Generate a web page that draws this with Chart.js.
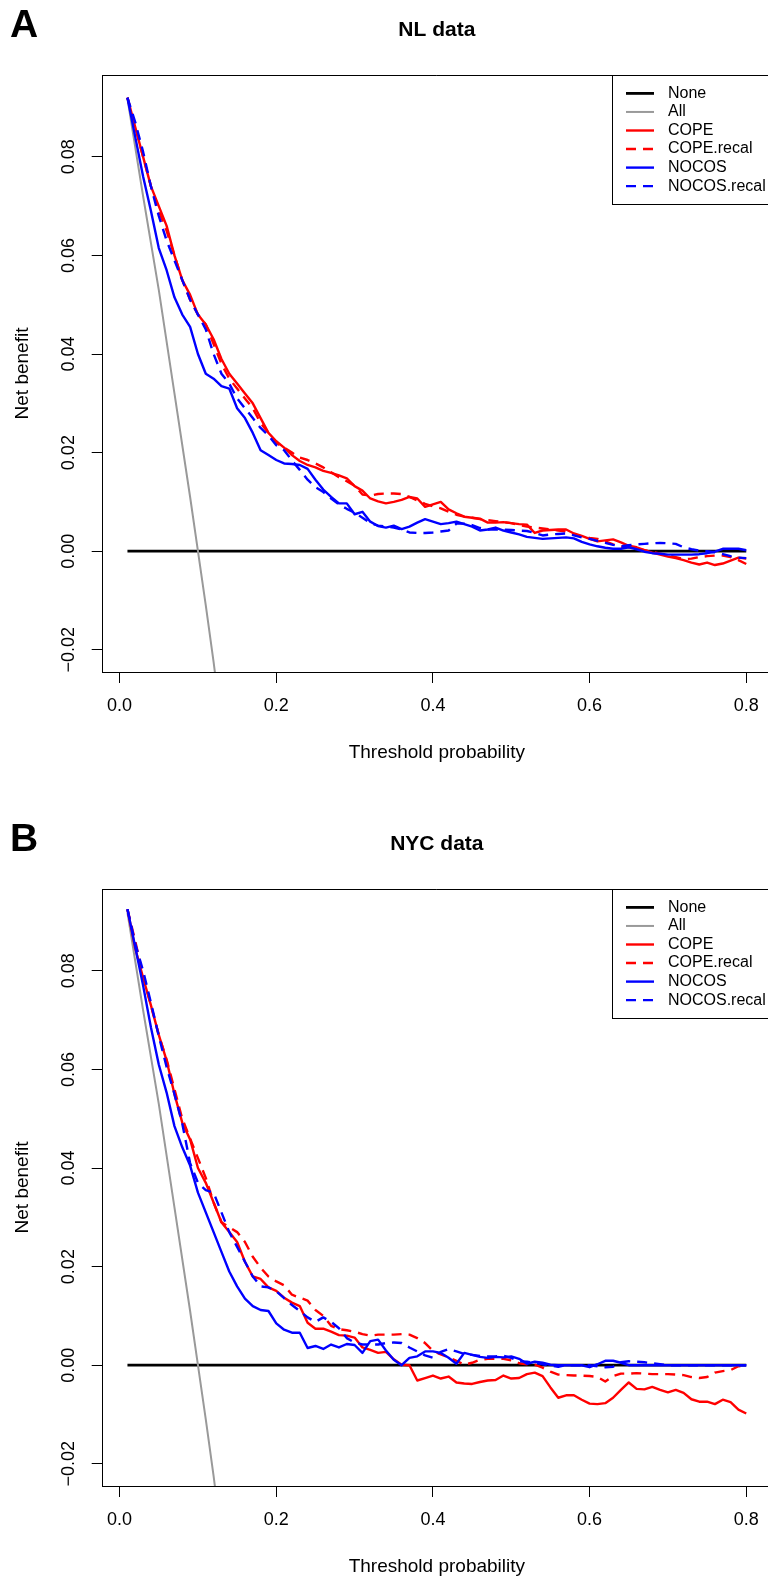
<!DOCTYPE html>
<html>
<head>
<meta charset="utf-8">
<script src="https://cdn.jsdelivr.net/npm/chart.js@4.4.1/dist/chart.umd.min.js"></script>
<style>
  html, body { margin: 0; padding: 0; overflow: hidden; background: #fff; }
  .panel { position: absolute; left: 0; }
  .panel canvas { display: block; }
  #panelA { top: 0; }
  #panelB { top: 814px; }
</style>
</head>
<body>
<div class="panel" id="panelA"><canvas id="chartA" width="771" height="812"></canvas></div>
<div class="panel" id="panelB"><canvas id="chartB" width="771" height="812"></canvas></div>
<script>
// threshold probabilities used by the model curves
const thresholds = [
  0.01, 0.02, 0.03, 0.04, 0.05, 0.06, 0.07, 0.08, 0.09, 0.10,
  0.11, 0.12, 0.13, 0.14, 0.15, 0.16, 0.17, 0.18, 0.19, 0.20,
  0.21, 0.22, 0.23, 0.24, 0.25, 0.26, 0.27, 0.28, 0.29, 0.30,
  0.31, 0.32, 0.33, 0.34, 0.35, 0.36, 0.37, 0.38, 0.39, 0.40,
  0.41, 0.42, 0.43, 0.44, 0.45, 0.46, 0.47, 0.48, 0.49, 0.50,
  0.51, 0.52, 0.53, 0.54, 0.55, 0.56, 0.57, 0.58, 0.59, 0.60,
  0.61, 0.62, 0.63, 0.64, 0.65, 0.66, 0.67, 0.68, 0.69, 0.70,
  0.71, 0.72, 0.73, 0.74, 0.75, 0.76, 0.77, 0.78, 0.79, 0.80
]

// reference strategies
const noneThresh = [0.01, 0.80]
const noneNB = [0, 0]
const allThresh = [0.01, 0.03, 0.05, 0.07, 0.09, 0.10, 0.11, 0.12, 0.13]
const allNB = [0.0918, 0.072, 0.053, 0.032, 0.011, 0.0, -0.011, -0.0225, -0.035]

// NL data
const copeNL = [
  0.092, 0.086, 0.080, 0.074, 0.070, 0.066, 0.060, 0.055, 0.052, 0.048,
  0.046, 0.043, 0.039, 0.036, 0.034, 0.032, 0.030, 0.027, 0.024, 0.0223,
  0.021, 0.0195, 0.0183, 0.0175, 0.017, 0.0163, 0.0159, 0.0154, 0.0148, 0.0132,
  0.0123, 0.0107, 0.0101, 0.0097, 0.0100, 0.0104, 0.0110, 0.0107, 0.0090, 0.0095,
  0.0100, 0.0085, 0.0077, 0.0070, 0.0068, 0.0066, 0.0058, 0.0058, 0.0059, 0.0057,
  0.0055, 0.0054, 0.0037, 0.0042, 0.0043, 0.0044, 0.0044, 0.0036, 0.0031, 0.0025,
  0.0020, 0.0022, 0.0024, 0.0018, 0.0011, 0.0008, 0.0002, -0.0003, -0.0007, -0.0011,
  -0.0014, -0.0018, -0.0023, -0.0027, -0.0023, -0.0028, -0.0025, -0.0019, -0.0013, -0.0015
]
const copeRecalNL = [
  0.092, 0.086, 0.080, 0.074, 0.069, 0.065, 0.060, 0.055, 0.051, 0.048,
  0.046, 0.042, 0.038, 0.035, 0.033, 0.031, 0.029, 0.026, 0.024, 0.022,
  0.021, 0.020, 0.019, 0.0185, 0.0178, 0.017, 0.016, 0.015, 0.0142, 0.0133,
  0.0115, 0.0113, 0.0116, 0.0117, 0.0117, 0.0116, 0.0110, 0.0103, 0.0096, 0.0091,
  0.0087, 0.0080, 0.0074, 0.0070, 0.0068, 0.0065, 0.0063, 0.0061, 0.0059, 0.0057,
  0.0053, 0.0050, 0.0048, 0.0046, 0.0044, 0.0042, 0.0040, 0.0034, 0.0030, 0.0027,
  0.0025, 0.0020, 0.0014, 0.0009, 0.0008, 0.0006, 0.0002, -0.0001, -0.0005, -0.0009,
  -0.0012, -0.0016, -0.0015, -0.0012, -0.0010, -0.0009, -0.0009, -0.0012, -0.0018, -0.0026
]
const nocosNL = [
  0.092, 0.084, 0.076, 0.069, 0.0615, 0.057, 0.0515, 0.048, 0.0455, 0.040,
  0.036, 0.035, 0.0335, 0.033, 0.029, 0.027, 0.024, 0.0205, 0.0195, 0.0185,
  0.0178, 0.0177, 0.0175, 0.0167, 0.0145, 0.0125, 0.011, 0.0097, 0.0097, 0.0075,
  0.0080, 0.0060, 0.0051, 0.0048, 0.0052, 0.0045, 0.0050, 0.0058, 0.0065, 0.0060,
  0.0055, 0.0057, 0.0060, 0.0055, 0.0050, 0.0042, 0.0044, 0.0048, 0.0042, 0.0038,
  0.0034, 0.0029, 0.0027, 0.0025, 0.0026, 0.0027, 0.0028, 0.0026, 0.0019, 0.0014,
  0.0010, 0.0007, 0.0005, 0.0005, 0.0008, 0.0004, -0.0001, -0.0004, -0.0005, -0.0007,
  -0.0007, -0.0007, -0.0007, -0.0006, -0.0004, -0.0001, 0.0005, 0.0005, 0.0005, 0.0002
]
const nocosRecalNL = [
  0.092, 0.087, 0.081, 0.074, 0.068, 0.063, 0.059, 0.055, 0.051, 0.048,
  0.045, 0.040, 0.036, 0.034, 0.031, 0.029, 0.027, 0.025, 0.0235, 0.0215,
  0.0205, 0.0184, 0.0165, 0.0145, 0.013, 0.012, 0.0107, 0.0095, 0.0086, 0.0078,
  0.0068, 0.0057, 0.0052, 0.0050, 0.0048, 0.0044, 0.0038, 0.0037, 0.0037, 0.0038,
  0.0040, 0.0042, 0.0056, 0.0056, 0.0053, 0.0047, 0.0044, 0.0044, 0.0044, 0.0043,
  0.0042, 0.0041, 0.0037, 0.0032, 0.0034, 0.0035, 0.0036, 0.0032, 0.0028, 0.0025,
  0.0021, 0.0017, 0.0013, 0.0010, 0.0012, 0.0014, 0.0015, 0.0016, 0.0017, 0.0016,
  0.0015, 0.0008, 0.0004, 0.0001, 0.0000, -0.0002, -0.0006, -0.0010, -0.0013, -0.0014
]

// NYC data
const copeNYC = [
  0.0925, 0.0845, 0.0786, 0.0730, 0.0670, 0.0618, 0.0550, 0.0492, 0.0458, 0.040,
  0.037, 0.033, 0.029, 0.027, 0.025, 0.021, 0.018, 0.0175, 0.0158, 0.0151,
  0.0137, 0.0127, 0.0120, 0.0086, 0.0074, 0.0074, 0.0068, 0.0061, 0.0060, 0.0056,
  0.0036, 0.0031, 0.0025, 0.0027, 0.0012, 0.0001, 0.0000, -0.0031, -0.0026, -0.0021,
  -0.0027, -0.0023, -0.0035, -0.0037, -0.0038, -0.0034, -0.0031, -0.0030, -0.0021, -0.0027,
  -0.0026, -0.0018, -0.0015, -0.0022, -0.0045, -0.0066, -0.0061, -0.0061, -0.0070, -0.0078,
  -0.0079, -0.0077, -0.0066, -0.0050, -0.0035, -0.0048, -0.0049, -0.0044, -0.0050, -0.0055,
  -0.0050, -0.0056, -0.0069, -0.0074, -0.0074, -0.0079, -0.0070, -0.0075, -0.0090, -0.0098
]
const copeRecalNYC = [
  0.0925, 0.086, 0.079, 0.073, 0.067, 0.062, 0.056, 0.050, 0.046, 0.042,
  0.038, 0.033, 0.029, 0.028, 0.027, 0.025, 0.022, 0.0198, 0.0180, 0.0170,
  0.0162, 0.0143, 0.0137, 0.0131, 0.0112, 0.0100, 0.0080, 0.0073, 0.0071, 0.0068,
  0.0063, 0.0060, 0.0062, 0.0062, 0.0062, 0.0063, 0.0062, 0.0055, 0.0045, 0.0029,
  0.0022, 0.0016, 0.0009, 0.0001, 0.0005, 0.0011, 0.0013, 0.0013, 0.0013, 0.0010,
  0.0004, 0.0002, 0.0001, -0.0005, -0.0013, -0.0019, -0.0020, -0.0021, -0.0021, -0.0022,
  -0.0024, -0.0033, -0.0022, -0.0017, -0.0017, -0.0016, -0.0017, -0.0018, -0.0018, -0.0018,
  -0.0019, -0.0020, -0.0024, -0.0026, -0.0024, -0.0015, -0.0012, -0.0010, -0.0002, 0.0000
]
const nocosNYC = [
  0.0925, 0.0848, 0.0770, 0.0685, 0.0610, 0.0553, 0.0485, 0.0442, 0.0405, 0.035,
  0.031, 0.027, 0.023, 0.019, 0.016, 0.0135, 0.012, 0.0112, 0.0110, 0.0085,
  0.0072, 0.0066, 0.0066, 0.0035, 0.0039, 0.0033, 0.0042, 0.0036, 0.0043, 0.0041,
  0.0025, 0.0049, 0.0052, 0.0030, 0.0011, 0.0000, 0.0015, 0.0018, 0.0028, 0.0028,
  0.0025, 0.0015, 0.0003, 0.0025, 0.0021, 0.0017, 0.0015, 0.0017, 0.0016, 0.0018,
  0.0013, 0.0003, 0.0007, 0.0005, 0.0001, 0.0000, 0.0000, 0.0000, 0.0000, -0.0004,
  0.0002, 0.0009, 0.0009, 0.0005, 0.0000, 0.0000, 0.0000, 0.0000, 0.0000, 0.0000,
  0.0000, 0.0000, 0.0000, 0.0000, 0.0000, 0.0000, 0.0000, 0.0000, 0.0000, 0.0000
]
const nocosRecalNYC = [
  0.0925, 0.0855, 0.080, 0.0735, 0.0668, 0.0605, 0.055, 0.049, 0.041, 0.037,
  0.0355, 0.035, 0.031, 0.027, 0.024, 0.021, 0.018, 0.0160, 0.0158, 0.0150,
  0.0136, 0.0122, 0.0110, 0.0097, 0.0088, 0.0097, 0.0088, 0.0075, 0.0055, 0.0046,
  0.0042, 0.0042, 0.0042, 0.0045, 0.0046, 0.0045, 0.0036, 0.0028, 0.0020, 0.0015,
  0.0027, 0.0033, 0.0028, 0.0023, 0.0021, 0.0019, 0.0018, 0.0018, 0.0019, 0.0015,
  0.0008, 0.0007, 0.0005, 0.0002, -0.0001, -0.0003, 0.0000, 0.0000, 0.0000, 0.0000,
  -0.0002, -0.0004, -0.0003, 0.0006, 0.0008, 0.0007, 0.0006, 0.0004, 0.0002, 0.0000,
  0.0000, 0.0000, 0.0000, 0.0000, 0.0000, 0.0000, 0.0000, 0.0000, 0.0000, 0.0000
]

const xTicks = [0.0, 0.2, 0.4, 0.6, 0.8]
const yTicks = [-0.02, 0.00, 0.02, 0.04, 0.06, 0.08]

const FONT = "'Liberation Sans', Arial, Helvetica, sans-serif"

const pts = (xs, ys) => xs.map((x, i) => ({ x: x, y: ys[i] }))

// box top, panel letter, title and the legend box
const panelDecor = {
  id: 'panelDecor',
  afterDraw(chart, args, opts) {
    const { ctx, chartArea: a } = chart
    ctx.save()
    ctx.strokeStyle = '#000'
    ctx.lineWidth = 1
    ctx.setLineDash([])
    ctx.beginPath()
    ctx.moveTo(a.left, Math.round(a.top) + 0.5)
    ctx.lineTo(a.right, Math.round(a.top) + 0.5)
    ctx.stroke()

    ctx.fillStyle = '#000'
    ctx.textBaseline = 'alphabetic'
    ctx.textAlign = 'left'
    ctx.font = 'bold 39px ' + FONT
    ctx.fillText(opts.letter, 10, 37)
    ctx.textAlign = 'center'
    ctx.font = 'bold 21px ' + FONT
    ctx.fillText(opts.title, (a.left + a.right) / 2, 36)

    // legend
    const bx = 612.5, by = Math.round(a.top) + 0.5
    ctx.strokeRect(bx, by, a.right - bx + 10, 129)
    ctx.font = '16px ' + FONT
    ctx.textAlign = 'left'
    ctx.textBaseline = 'middle'
    chart.data.datasets.forEach((ds, i) => {
      const y = a.top + 18.4 + i * 18.55
      ctx.strokeStyle = ds.borderColor
      ctx.lineWidth = ds.borderWidth
      ctx.setLineDash(ds.borderDash || [])
      ctx.beginPath()
      ctx.moveTo(626, y)
      ctx.lineTo(654, y)
      ctx.stroke()
      ctx.fillStyle = '#000'
      ctx.fillText(ds.label, 668, y)
    })
    ctx.restore()
  }
}

function makeChart(id, letter, title, cope, copeRecal, nocos, nocosRecal) {
  const ctx = document.getElementById(id).getContext('2d')
  return new Chart(ctx, {
    type: 'line',
    data: {
      datasets: [
        { label: 'None', data: pts(noneThresh, noneNB), borderColor: '#000000', borderWidth: 2.8, order: 6 },
        { label: 'All', data: pts(allThresh, allNB), borderColor: '#999999', borderWidth: 2, order: 5 },
        { label: 'COPE', data: pts(thresholds, cope), borderColor: '#ff0000', borderWidth: 2.4, order: 4 },
        { label: 'COPE.recal', data: pts(thresholds, copeRecal), borderColor: '#ff0000', borderWidth: 2.4, borderDash: [10, 7], order: 3 },
        { label: 'NOCOS', data: pts(thresholds, nocos), borderColor: '#0000ff', borderWidth: 2.4, order: 2 },
        { label: 'NOCOS.recal', data: pts(thresholds, nocosRecal), borderColor: '#0000ff', borderWidth: 2.4, borderDash: [10, 7], order: 1 }
      ]
    },
    options: {
      responsive: false,
      animation: false,
      clip: 0,
      layout: { padding: { top: 75, left: 0, right: 0, bottom: 0 } },
      elements: {
        point: { radius: 0 },
        line: { tension: 0, fill: false, borderJoinStyle: 'round' }
      },
      plugins: {
        legend: { display: false },
        tooltip: { enabled: false },
        title: { display: false },
        panelDecor: { letter: letter, title: title }
      },
      scales: {
        x: {
          type: 'linear',
          min: -0.0216,
          max: 0.8316,
          afterBuildTicks: axis => { axis.ticks = xTicks.map(v => ({ value: v })) },
          afterFit: axis => { axis.height = 140 },
          grid: { drawOnChartArea: false, drawTicks: true, tickLength: 11, color: '#000', lineWidth: 1 },
          border: { display: true, color: '#000', width: 1 },
          ticks: {
            color: '#000',
            maxRotation: 0,
            padding: 12,
            font: { family: FONT, size: 18 },
            callback: v => v.toFixed(1)
          },
          title: {
            display: true,
            text: 'Threshold probability',
            color: '#000',
            font: { family: FONT, size: 19 },
            padding: { top: 0, bottom: 48 }
          }
        },
        y: {
          type: 'linear',
          min: -0.0245,
          max: 0.0966,
          afterBuildTicks: axis => { axis.ticks = yTicks.map(v => ({ value: v })) },
          afterFit: axis => { axis.width = 102.7 },
          grid: { drawOnChartArea: false, drawTicks: true, tickLength: 11, color: '#000', lineWidth: 1 },
          border: { display: true, color: '#000', width: 1 },
          ticks: {
            color: '#000',
            minRotation: 90,
            maxRotation: 90,
            crossAlign: 'center',
            padding: 0,
            font: { family: FONT, size: 18 },
            callback: v => (v < -1e-9 ? '\u2212' : '') + Math.abs(v).toFixed(2)
          },
          title: {
            display: true,
            text: 'Net benefit',
            color: '#000',
            font: { family: FONT, size: 19 },
            padding: { top: 11, bottom: 0 }
          }
        }
      }
    },
    plugins: [panelDecor]
  })
}

makeChart('chartA', 'A', 'NL data', copeNL, copeRecalNL, nocosNL, nocosRecalNL)
makeChart('chartB', 'B', 'NYC data', copeNYC, copeRecalNYC, nocosNYC, nocosRecalNYC)
</script>
</body>
</html>
